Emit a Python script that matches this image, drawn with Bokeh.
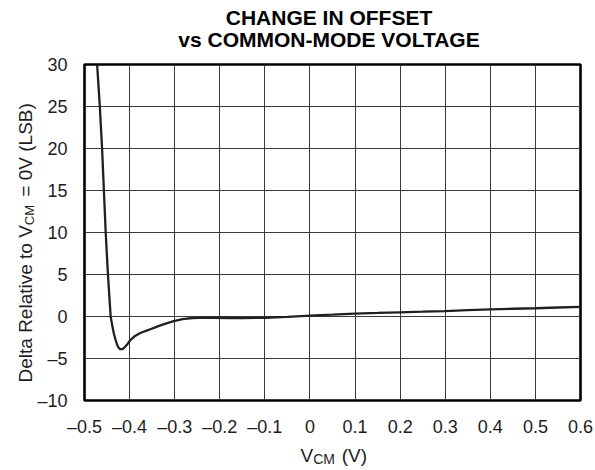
import math
from bokeh.plotting import figure
from bokeh.models import Range1d, FixedTicker, Label
from bokeh.embed import file_html
from bokeh.resources import INLINE

# ---- data ----
vcm = [-0.472, -0.466, -0.461, -0.457, -0.453, -0.448, -0.442, -0.438, -0.435,
       -0.431, -0.428, -0.425, -0.422, -0.418, -0.415, -0.412, -0.409, -0.405,
       -0.401, -0.397, -0.392, -0.387, -0.381, -0.376, -0.369, -0.362, -0.354,
       -0.346, -0.336, -0.325, -0.313, -0.302, -0.292, -0.283, -0.272, -0.26,
       -0.245, -0.22, -0.18, -0.15, -0.1, -0.05, 0.0, 0.05, 0.1, 0.15, 0.2,
       0.25, 0.3, 0.35, 0.4, 0.45, 0.5, 0.55, 0.6]
delta = [30.0, 25.0, 20.0, 15.0, 10.0, 5.0, 0.0, -1.2, -2.0,
         -2.8, -3.3, -3.65, -3.85, -3.9, -3.85, -3.72, -3.55, -3.3,
         -3.0, -2.75, -2.5, -2.28, -2.1, -1.97, -1.82, -1.68, -1.52,
         -1.36, -1.15, -0.93, -0.72, -0.55, -0.42, -0.32, -0.24, -0.19,
         -0.16, -0.15, -0.18, -0.2, -0.15, -0.05, 0.1, 0.22, 0.35, 0.42, 0.5,
         0.57, 0.65, 0.75, 0.85, 0.92, 0.98, 1.07, 1.15]

x_ticks = [-0.5, -0.4, -0.3, -0.2, -0.1, 0.0, 0.1, 0.2, 0.3, 0.4, 0.5, 0.6]
x_tick_labels = ["\u20130.5", "\u20130.4", "\u20130.3", "\u20130.2", "\u20130.1", "0",
                 "0.1", "0.2", "0.3", "0.4", "0.5", "0.6"]
y_ticks = [-10, -5, 0, 5, 10, 15, 20, 25, 30]
y_tick_labels = ["\u201310", "\u20135", "0", "5", "10", "15", "20", "25", "30"]

title_lines = ["CHANGE IN OFFSET", "vs COMMON-MODE VOLTAGE"]
# main text with a gap (em + en space) where the subscript sits
GAP = "\u2003\u2002"
xlabel_main = "V" + GAP + "(V)"
ylabel_main = "Delta Relative to V" + GAP + "= 0V (LSB)"
subscript = "CM"

X0, X1 = -0.5, 0.6
Y0, Y1 = -10, 30

# ---- layout (canvas pixels) ----
W, H = 595, 470
FL, FR, FT, FB = 84, 580, 64, 400
FONT = "Liberation Sans"
INK = "#1e1c1d"

p = figure(width=W, height=H, x_range=Range1d(X0, X1), y_range=Range1d(Y0, Y1),
           output_backend="svg", toolbar_location=None,
           min_border_left=FL, min_border_right=W - FR,
           min_border_top=FT, min_border_bottom=H - FB)
p.background_fill_color = "white"
p.border_fill_color = "white"
p.outline_line_color = "black"
p.outline_line_width = 2.6

for ax, ticks, labels in ((p.xaxis[0], x_ticks, x_tick_labels),
                          (p.yaxis[0], y_ticks, y_tick_labels)):
    ax.ticker = FixedTicker(ticks=ticks)
    ax.major_label_overrides = {t: l for t, l in zip(ticks, labels)}
    ax.axis_line_color = None
    ax.major_tick_line_color = None
    ax.minor_tick_line_color = None
    ax.major_tick_out = 0
    ax.major_tick_in = 0
    ax.major_label_text_font = FONT
    ax.major_label_text_font_size = "18px"
    ax.major_label_text_color = INK
p.xaxis.major_label_standoff = 16
p.yaxis.major_label_standoff = 17

p.xgrid.ticker = FixedTicker(ticks=x_ticks)
p.ygrid.ticker = FixedTicker(ticks=y_ticks)
p.grid.grid_line_color = "#3a3a3a"
p.grid.grid_line_width = 1

p.line(vcm, delta, line_color="#231f20", line_width=2.3)


def lab(side, x, y, text, size, bold=False, align="left", angle=0.0):
    # x, y: canvas pixels of the text's start (or centre) and its vertical middle
    p.add_layout(Label(x=x, y=y, x_units="canvas", y_units="canvas", text=text,
                       text_font=FONT, text_font_size=size,
                       text_font_style="bold" if bold else "normal",
                       text_align=align, text_baseline="middle",
                       angle=angle, text_color="black" if bold else INK), side)


# ---- title (two lines) ----
tcx = 328.5
lab("above", tcx, 17.0, title_lines[0], "21px", bold=True, align="center")
lab("above", tcx, 38.8, title_lines[1], "21px", bold=True, align="center")

# ---- x axis label: V_CM (V) ----
xs = 300.0
lab("below", xs, 455.0, xlabel_main, "19px")
lab("above", xs + 19 * 0.667, 458.6, subscript, "14px")

# ---- y axis label: Delta Relative to V_CM = 0V (LSB) ----
ys = 382.0
lab("left", 24.8, ys, ylabel_main, "19px", angle=math.pi / 2)
lab("right", 29.4, ys - 19 * 8.281, subscript, "13px", angle=math.pi / 2)

open("out.html", "w").write(file_html(p, INLINE))
